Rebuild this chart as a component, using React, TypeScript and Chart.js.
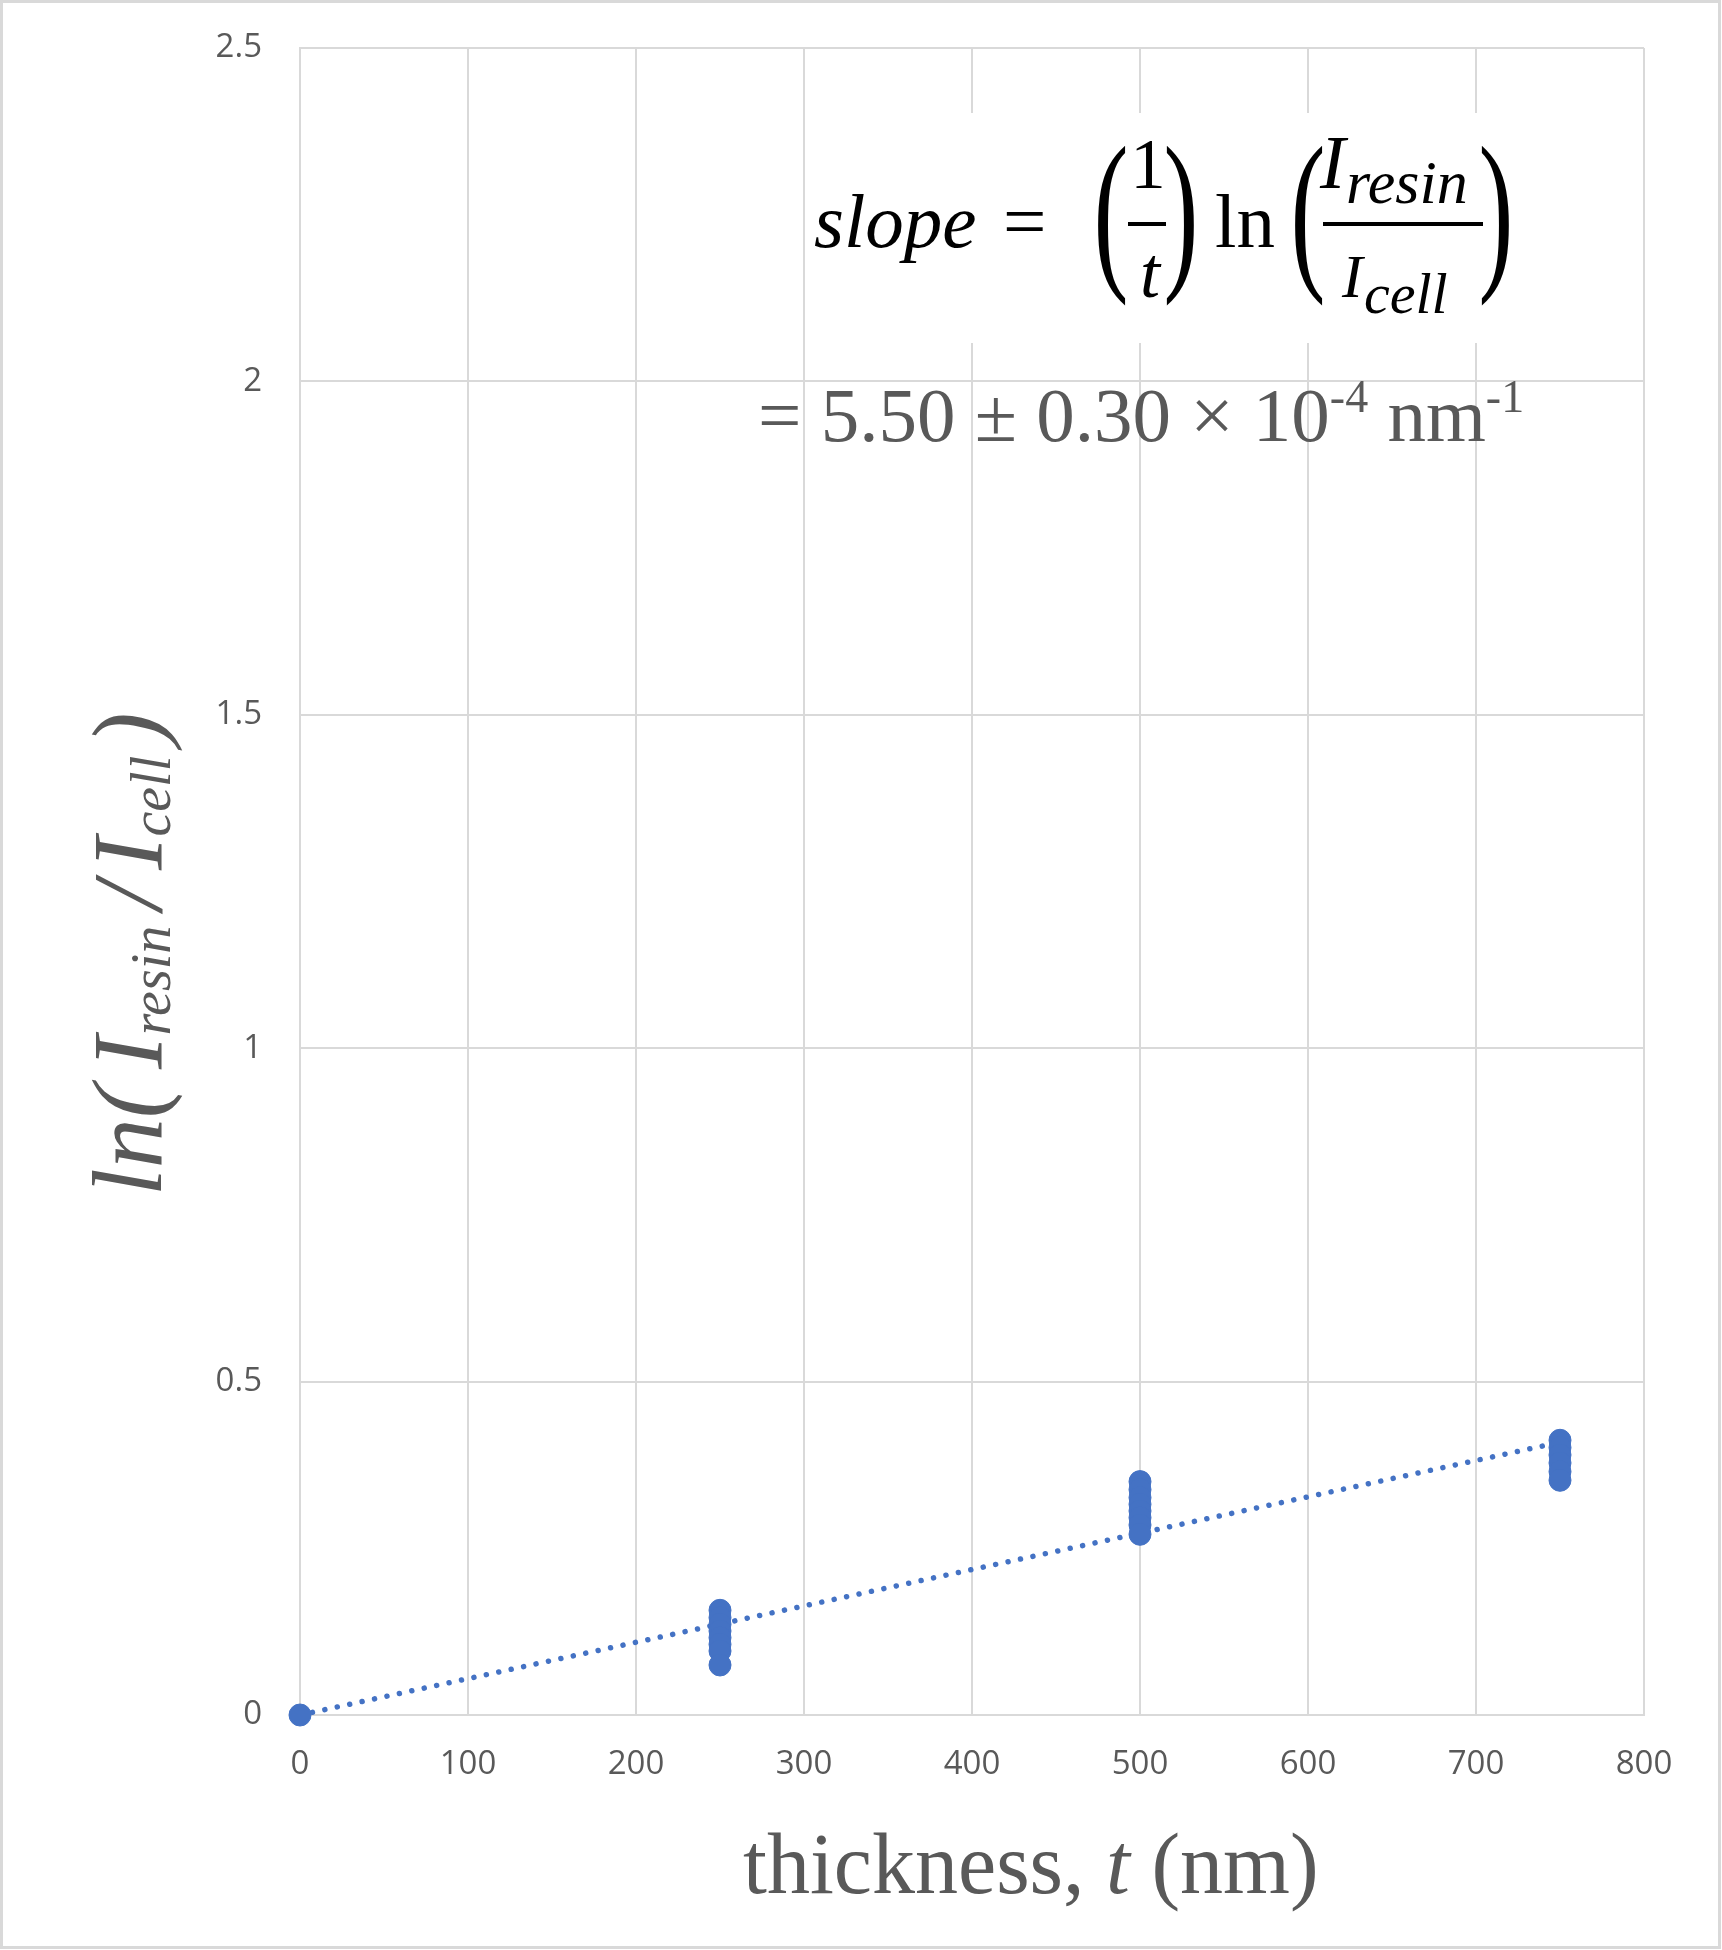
import React, { useEffect, useRef } from "react";
import { Chart, registerables } from "chart.js";

Chart.register(...registerables);

// ---- data ----
const thicknessGroups = [0, 250, 500, 750];
const lnAt0 = [0];
const lnAt250 = [0.157, 0.146, 0.136, 0.126, 0.116, 0.106, 0.096, 0.075];
const lnAt500 = [0.35, 0.338, 0.326, 0.316, 0.306, 0.296, 0.285, 0.271];
const lnAt750 = [0.412, 0.401, 0.39, 0.378, 0.365, 0.352];
const trendT = [0, 750];
const trendLn = [0, 0.409];

const xMin = 0;
const xMax = 800;
const xStep = 100;
const yMin = 0;
const yMax = 2.5;
const yStep = 0.5;
const yTickValues = [0, 0.5, 1, 1.5, 2, 2.5];
const yTickLabels = ["0", "0.5", "1", "1.5", "2", "2.5"];

const yTitleParts = ["ln(", "I", "resin", "/", "I", "cell", ")"];
const xTitleParts = ["thickness, ", "t", " (nm)"];
const slopeLine2 = ["= 5.50 \u00b1 0.30 \u00d7 10", "-4", " nm", "-1"];

const BLUE = "#4472C4";
const GREY_TEXT = "#595959";
const GRID = "#d9d9d9";
const SERIF = "'Liberation Serif', 'Times New Roman', serif";

function buildPoints() {
  const groups = [lnAt0, lnAt250, lnAt500, lnAt750];
  const pts: { x: number; y: number }[] = [];
  groups.forEach((vals, i) => {
    vals.forEach((v) => pts.push({ x: thicknessGroups[i], y: v }));
  });
  return pts;
}

const decorPlugin = {
  id: "decor",
  beforeDraw(chart: any) {
    const ctx = chart.ctx;
    ctx.save();
    ctx.fillStyle = "#ffffff";
    ctx.fillRect(0, 0, chart.width, chart.height);
    ctx.strokeStyle = "#d9d9d9";
    ctx.lineWidth = 3;
    ctx.strokeRect(1.5, 1.5, chart.width - 4, chart.height - 4);
    ctx.restore();
  },
  afterDraw(chart: any) {
    const ctx = chart.ctx;
    ctx.save();

    // ---- formula box (white background covering the grid) ----
    ctx.fillStyle = "#ffffff";
    ctx.fillRect(807, 113, 735, 230);

    ctx.fillStyle = "#000000";
    ctx.textAlign = "left";
    ctx.textBaseline = "alphabetic";
    ctx.font = `italic 77px ${SERIF}`;
    ctx.fillText("slope", 814, 247);
    ctx.font = `77px ${SERIF}`;
    ctx.fillText("=", 1003, 247);

    const bigParen = (ch: string, cx: number) => {
      ctx.save();
      ctx.font = `175px ${SERIF}`;
      ctx.textAlign = "center";
      ctx.translate(cx, 268);
      ctx.scale(0.6, 1);
      ctx.fillText(ch, 0, 0);
      ctx.restore();
    };
    bigParen("(", 1111);
    ctx.font = `71px ${SERIF}`;
    ctx.textAlign = "center";
    ctx.fillText("1", 1148, 188);
    ctx.fillRect(1128, 222, 38, 4);
    ctx.font = `italic 72px ${SERIF}`;
    ctx.fillText("t", 1150, 297);
    bigParen(")", 1181);

    ctx.textAlign = "left";
    ctx.font = `77px ${SERIF}`;
    ctx.fillText("ln", 1215, 247);
    bigParen("(", 1308);
    ctx.font = `italic 76px ${SERIF}`;
    ctx.fillText("I", 1320, 188);
    ctx.font = `italic 62px ${SERIF}`;
    ctx.fillText("resin", 1346, 203);
    ctx.fillRect(1323, 222, 160, 4);
    ctx.font = `italic 62px ${SERIF}`;
    ctx.fillText("I", 1342, 297);
    ctx.font = `italic 58px ${SERIF}`;
    ctx.fillText("cell", 1364, 313);
    bigParen(")", 1496);

    // ---- slope value line ----
    ctx.fillStyle = GREY_TEXT;
    let x = 758;
    ctx.font = `77px ${SERIF}`;
    ctx.fillText(slopeLine2[0], x, 441);
    x += ctx.measureText(slopeLine2[0]).width;
    ctx.font = `46px ${SERIF}`;
    ctx.fillText(slopeLine2[1], x, 412);
    x += ctx.measureText(slopeLine2[1]).width;
    ctx.font = `77px ${SERIF}`;
    ctx.fillText(slopeLine2[2], x, 441);
    x += ctx.measureText(slopeLine2[2]).width;
    ctx.font = `46px ${SERIF}`;
    ctx.fillText(slopeLine2[3], x, 412);

    // ---- x axis title ----
    x = 743;
    ctx.font = `86px ${SERIF}`;
    ctx.fillText(xTitleParts[0], x, 1893);
    x += ctx.measureText(xTitleParts[0]).width;
    ctx.font = `italic 86px ${SERIF}`;
    ctx.fillText(xTitleParts[1], x, 1893);
    x += ctx.measureText(xTitleParts[1]).width;
    ctx.font = `86px ${SERIF}`;
    ctx.fillText(xTitleParts[2], x, 1893);

    // ---- y axis title (rotated) ----
    ctx.save();
    ctx.translate(161, 1196);
    ctx.rotate(-Math.PI / 2);
    const big = `italic 100px ${SERIF}`;
    const sub = `italic 56px ${SERIF}`;
    let p = 0;
    const put = (txt: string, font: string, dy: number, gapAfter: number) => {
      ctx.font = font;
      ctx.fillText(txt, p, dy);
      p += ctx.measureText(txt).width + gapAfter;
    };
    put(yTitleParts[0], big, 0, 16);
    put(yTitleParts[1], big, 0, 0);
    put(yTitleParts[2], sub, 9, 16);
    put(yTitleParts[3], big, 0, 12);
    put(yTitleParts[4], big, 0, 0);
    put(yTitleParts[5], sub, 9, 10);
    put(yTitleParts[6], big, 0, 0);
    ctx.restore();

    ctx.restore();
  },
};

export default function App() {
  const canvasRef = useRef<HTMLCanvasElement | null>(null);

  useEffect(() => {
    if (!canvasRef.current) return;
    const points = buildPoints();
    const trend = trendT.map((t, i) => ({ x: t, y: trendLn[i] }));

    const chart = new Chart(canvasRef.current, {
      type: "scatter",
      data: {
        datasets: [
          {
            label: "measurements",
            data: points,
            backgroundColor: BLUE,
            borderColor: BLUE,
            borderWidth: 1,
            pointRadius: 11,
            pointHoverRadius: 11,
            clip: false,
          } as any,
          {
            type: "line",
            label: "linear fit",
            data: trend,
            borderColor: BLUE,
            borderWidth: 5.5,
            borderDash: [0.01, 12.7],
            borderCapStyle: "round",
            pointRadius: 0,
            fill: false,
            tension: 0,
            clip: false,
          } as any,
        ],
      },
      options: {
        responsive: false,
        animation: false,
        devicePixelRatio: 1,
        layout: { padding: { top: 48, right: 78, bottom: 0, left: 0 } },
        plugins: {
          legend: { display: false },
          tooltip: { enabled: false },
          title: { display: false },
        },
        scales: {
          x: {
            type: "linear",
            min: xMin,
            max: xMax,
            ticks: {
              stepSize: xStep,
              color: GREY_TEXT,
              font: { family: "'Open Sans'", size: 33 },
              padding: 30,
              maxRotation: 0,
              autoSkip: false,
            },
            grid: { color: GRID, lineWidth: 2, drawTicks: false },
            border: { color: GRID, width: 2 },
            afterFit: (s: any) => {
              s.height = 235;
              s.paddingLeft = 0;
              s.paddingRight = 0;
            },
          },
          y: {
            type: "linear",
            min: yMin,
            max: yMax,
            ticks: {
              stepSize: yStep,
              color: GREY_TEXT,
              font: { family: "'Open Sans'", size: 33 },
              padding: 38,
              autoSkip: false,
              callback: (v: any) => {
                const i = yTickValues.findIndex((t) => Math.abs(t - Number(v)) < 1e-9);
                return i >= 0 ? yTickLabels[i] : String(v);
              },
            },
            grid: { color: GRID, lineWidth: 2, drawTicks: false },
            border: { color: GRID, width: 2 },
            afterFit: (s: any) => {
              s.width = 300;
              s.paddingTop = 0;
              s.paddingBottom = 0;
            },
          },
        },
      },
      plugins: [decorPlugin],
    });

    return () => chart.destroy();
  }, []);

  return (
    <div style={{ position: "absolute", left: 0, top: 0, width: 1722, height: 1950, background: "#fff" }}>
      <canvas ref={canvasRef} width={1722} height={1950} style={{ display: "block", width: 1722, height: 1950 }} />
    </div>
  );
}
